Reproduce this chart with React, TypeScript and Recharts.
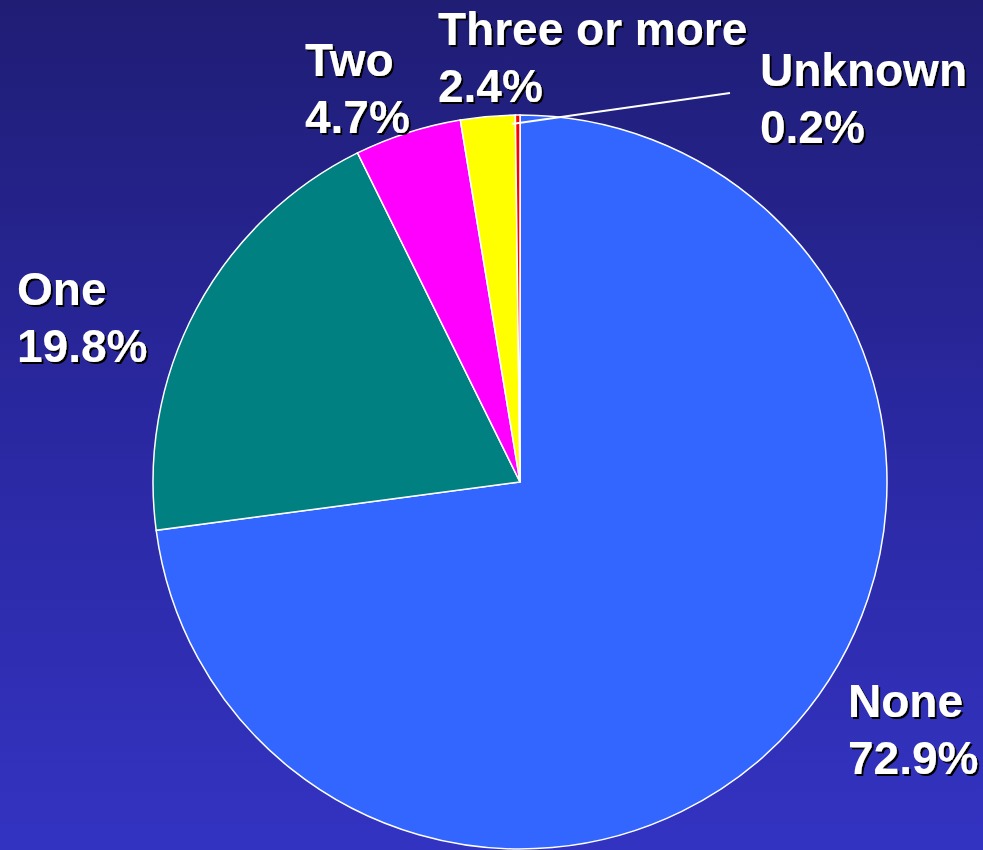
import { PieChart, Pie, Cell } from 'recharts'

// Children in household, share of cases
const categories = ['None', 'One', 'Two', 'Three or more', 'Unknown']
const shares = [72.9, 19.8, 4.7, 2.4, 0.2]
const sliceColors = ['#3366FF', '#008080', '#FF00FF', '#FFFF00', '#FF0000']

const WIDTH = 983
const HEIGHT = 850
const FONT = '"Liberation Sans", Arial, sans-serif'
const FONT_SIZE = 46
const LINE_GAP = 57

// where each two-line label sits (left edge, first baseline)
const labelLayout = [
	{ x: 848, y: 717 },
	{ x: 17, y: 305 },
	{ x: 305, y: 76 },
	{ x: 438, y: 45 },
	{ x: 760, y: 86 },
]

const chartData = categories.map((name, i) => ({
	name,
	value: shares[i],
	color: sliceColors[i],
}))

const RAD = Math.PI / 180

/**
 * Slice label: category name over its percentage, with a leader line for the tiny slice
 */
function SliceLabel(props: any) {
	const { index, cx, cy, midAngle, outerRadius, name, value } = props
	const pos = labelLayout[index]
	const filterId = `label-shadow-${index}`
	let leader = null
	if (name === 'Unknown') {
		const r = outerRadius - 9
		const sx = cx + r * Math.cos(-midAngle * RAD) - 6
		const sy = cy + r * Math.sin(-midAngle * RAD)
		leader = <line x1={sx} y1={sy} x2={pos.x - 30} y2={pos.y + 7} stroke="#fff" strokeWidth={2} />
	}
	return (
		<g>
			<defs>
				<filter id={filterId} x="-10%" y="-20%" width="130%" height="150%">
					<feDropShadow dx={2} dy={2} stdDeviation={0} floodColor="#000" floodOpacity={1} />
				</filter>
			</defs>
			{leader}
			<text
				x={pos.x}
				y={pos.y}
				fill="#fff"
				fontFamily={FONT}
				fontWeight="bold"
				fontSize={FONT_SIZE}
				filter={`url(#${filterId})`}
			>
				<tspan x={pos.x} y={pos.y}>
					{name}
				</tspan>
				<tspan x={pos.x} y={pos.y + LINE_GAP}>
					{`${value.toFixed(1)}%`}
				</tspan>
			</text>
		</g>
	)
}

export default function App() {
	return (
		<div
			style={{
				position: 'absolute',
				left: 0,
				top: 0,
				width: WIDTH,
				height: HEIGHT,
				background: 'linear-gradient(to bottom, #1f1d74 0%, #2a28a0 50%, #3333c2 100%)',
			}}
		>
			<PieChart width={WIDTH} height={HEIGHT} margin={{ top: 0, right: 0, bottom: 0, left: 0 }}>
				<Pie
					data={chartData}
					dataKey="value"
					nameKey="name"
					cx={520}
					cy={482}
					outerRadius={367}
					startAngle={90}
					endAngle={-270}
					stroke="#fff"
					strokeWidth={1.5}
					label={SliceLabel}
					labelLine={false}
					isAnimationActive={false}
				>
					{chartData.map((entry, index) => (
						<Cell key={`cell-${index}`} fill={entry.color} />
					))}
				</Pie>
			</PieChart>
		</div>
	)
}
